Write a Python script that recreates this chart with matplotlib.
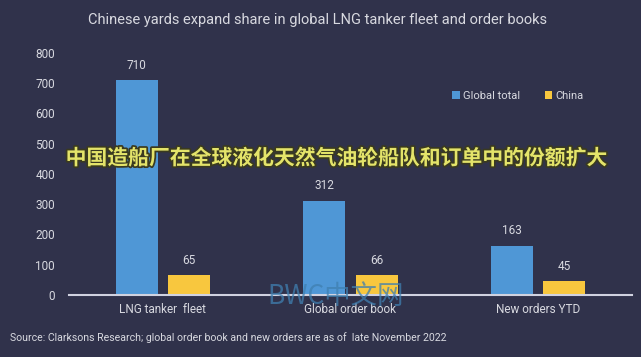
import matplotlib
matplotlib.use("Agg")
import matplotlib.pyplot as plt
import matplotlib.patheffects as pe
import numpy as np

categories = ["LNG tanker  fleet", "Global order book", "New orders YTD"]
global_total = [710, 312, 163]
china = [65, 66, 45]
yticks = [0, 100, 200, 300, 400, 500, 600, 700, 800]

BG = "#30324b"
BLUE = "#4f97d6"
YELLOW = "#f8c73e"
TXT = "#d8d9e0"

plt.rcParams['font.family'] = ['Roboto', 'Noto Sans CJK SC', 'DejaVu Sans']

W, H = 641, 357
fig = plt.figure(figsize=(W/100, H/100), dpi=100, facecolor=BG)
ax = fig.add_axes([69/W, 1-295/H, (632-69)/W, (295-53)/H], facecolor=BG)

x = np.arange(len(categories))
bw = 0.224
off = 0.14
b1 = ax.bar(x - off, global_total, bw, color=BLUE, label="Global total")
b2 = ax.bar(x + off, china, bw, color=YELLOW, label="China")

for rect, v in zip(b1, global_total):
    ax.annotate(str(v), (rect.get_x()+rect.get_width()/2, v), xytext=(0, 6),
                textcoords="offset points", ha="center", va="bottom", color=TXT, fontsize=8.5)
for rect, v in zip(b2, china):
    ax.annotate(str(v), (rect.get_x()+rect.get_width()/2, v), xytext=(0, 6),
                textcoords="offset points", ha="center", va="bottom", color=TXT, fontsize=8.5)

ax.set_xlim(-0.5, 2.5)
ax.set_ylim(0, 800)
ax.set_yticks(yticks)
ax.set_yticklabels([str(t) for t in yticks], color=TXT, fontsize=8.5)
ax.set_xticks(x)
ax.set_xticklabels(categories, color=TXT, fontsize=8.5)
ax.tick_params(axis='both', length=0, pad=10)
ax.tick_params(axis='x', pad=6)
for s in ["top", "right", "left"]:
    ax.spines[s].set_visible(False)
ax.spines["bottom"].set_color("#d0d2e0")
ax.spines["bottom"].set_linewidth(1.5)

leg = ax.legend(loc="upper left", bbox_to_anchor=((442-69)/(632-69), 1-(81-53)/(295-53)),
                ncol=2, frameon=False, fontsize=8, labelcolor=TXT,
                handlelength=0.7, handleheight=0.7, handletextpad=0.3, columnspacing=2.2)

fig.text(318/W, 1-20/H, "Chinese yards expand share in global LNG tanker fleet and order books",
         ha="center", va="center", color=TXT, fontsize=10.5)

fig.text(337/W, 1-158/H, "中国造船厂在全球液化天然气油轮船队和订单中的份额扩大",
         ha="center", va="center", color="#e4e46a", fontsize=15, fontweight="bold",
         family=['Noto Sans CJK SC', 'DejaVu Sans'],
         path_effects=[pe.withStroke(linewidth=2.5, foreground="#3a3a20")])

fig.text(336/W, 1-297/H, "BWC中文网", ha="center", va="center", color="#3f7fb0",
         fontsize=19, alpha=0.75, family=['Noto Sans CJK SC', 'DejaVu Sans'])

fig.text(10/W, 1-338/H, "Source: Clarksons Research; global order book and new orders are as of  late November 2022",
         ha="left", va="center", color=TXT, fontsize=7.6)

fig.savefig("out.png", dpi=100, facecolor=BG)
